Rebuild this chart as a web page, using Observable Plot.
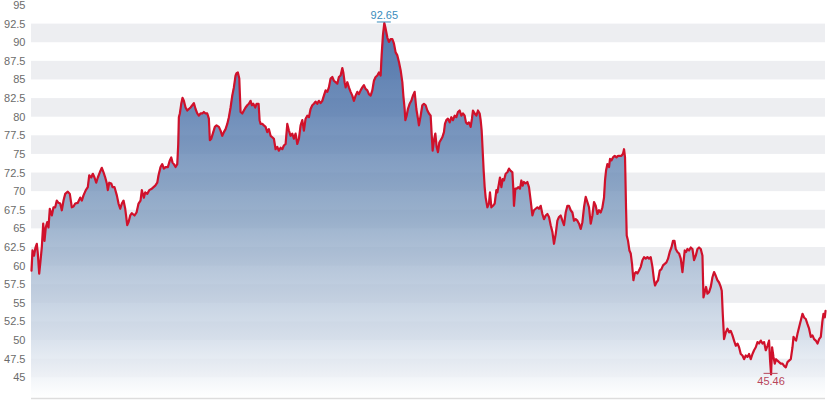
<!DOCTYPE html>
<html>
<head>
<meta charset="utf-8">
<script src="https://cdn.jsdelivr.net/npm/d3@7"></script>
<script src="https://cdn.jsdelivr.net/npm/@observablehq/plot@0.6"></script>
<style>
  html, body { margin: 0; padding: 0; background: #ffffff; }
  #chart svg { display: block; }
</style>
</head>
<body>
<div id="chart"></div>
<script>
// ---- data ----
const session = [
  // part 1
  31,32,33.5,35,36.3,37.3,38.7,40,41.3,42.7,44,45.3,46.7,48,49.3,51.3,53,54.7,56.3,58,
  59.7,61.3,63,64.7,67.3,69.3,71.3,73,74.7,77.3,79.7,81.3,83,85.3,87.3,88.7,90.7,92.3,94,95.7,
  97.3,99.3,101.3,103,104.7,106.3,107.3,108.7,110.7,112,114,116.3,118,119.7,121.3,123,124.7,126.7,128,129.7,
  131.3,134,136,138,140,141.3,143.3,144.7,146.7,148.7,151.3,153,154.7,156.7,158,
  // part 2
  160,161.7,163.3,165,167.3,169.3,170.7,172,173.3,175,
  176.7,177.7,178.3,179.3,180.7,182,183.3,185,186.7,188.3,
  190,191.7,193.3,195,196.7,198.3,200,201.7,203.3,205,
  206.7,208.3,209.3,210.7,212.7,214.3,216,218.3,220,221.7,
  223.3,225,226.7,228.3,230,231.7,233.3,235,236,237.3,
  238.7,239.3,240,241.7,243.3,245,246.7,248.3,250,251.3,
  252.7,254.7,256,258,259,260,261.7,263.3,265,266.7,
  268.3,270,271.7,273.3,275,276.7,278.3,280,281.7,283.3,
  285,286.7,288.3,290,291.7,293.3,
  // part 3
  295,296.7,298.3,300,301.7,303.3,305,306.7,308.3,310,
  311.7,313.3,315,316.7,318.3,320,321.7,323.3,325,326.7,
  328.3,330,331.7,333.3,335,336.7,338.3,340,341.7,342.7,
  344,345,346.7,348.3,350,351.7,353.3,355,356.7,358.3,
  360,361.7,363.3,365,366.7,368.3,370,371.7,373.3,375,
  376.7,378.3,380,381,382.3,383.7,385,386.7,388.3,390,
  391.7,393.3,395,396.7,398.3,400,401.7,402.7,404,404.7,
  406,407.3,409,410.7,412.3,414,415.7,417.3,418.3,420,
  421.7,423.3,425,426.7,428.3,430,
  // part 4
  431,432,433.3,434.7,436,437.3,438.7,440,441.7,443.3,
  444.3,445.7,447.3,449,450.7,452.3,454,455.7,457.3,459,
  460.7,462.3,464,465.3,466.7,468.3,470,471.3,472.3,474,
  475.7,477.3,479,480,481,482,483,484,485,486.7,
  488.3,489.3,490.7,492.3,494,495.7,496.7,498.3,499.3,500.7,
  502,503.3,505,506.7,508.3,510,511.7,512.7,513.3,514.7,
  516,517.7,519.3,520.7,522,523.3,525,526.7,528.3,530,
  531.7,533.3,535,536.7,538.3,540,541.7,543.3,545,546.7,
  548.3,550,551.7,553.3,555,556.7,558.3,
  // part 5
  560,561.7,563.3,565,566.7,568.3,570,571.7,573.3,575,
  576.7,578.3,580,581.7,583.3,585,586.7,588.3,590,591.7,
  593.3,595,596.7,598.3,600,601.7,603.3,604.3,605.3,606.7,
  608.3,609.3,610.7,612.3,614,615.7,617.3,619,620.7,622.3,
  623.3,624.3,625.3,626,627.3,628.7,630,631.3,632.7,634,
  635.3,636.7,638.3,640,641.7,643.3,645,646.7,648.3,650,
  651.7,653.3,654.3,655.7,657.3,659,660.7,662.3,664,665.7,
  667.3,669,670.7,672.3,673.7,675,676.7,678.3,680,681.7,
  682.7,684,685.3,686.7,688.3,
  // part 6
  690,691.7,693.3,695,696.7,698.3,700,701.7,702.7,704,
  705.3,706.7,708.3,710,711.7,713.3,715,716.7,718.3,720,
  721,722,723.3,725,726.7,728.3,730,731.7,733.3,735,
  736.7,738.3,740,741.7,743.3,745,746.7,748.3,750,751.7,
  753.3,755,756.7,758.3,760,761.7,763.3,765,766.7,768.3,
  769.3,770.3,771.3,772.7,774,775.3,776.7,778.3,780,781.7,
  783.3,785,786.7,788.3,790,791.7,792.7,794,795.3,796.7,
  798.3,800,801.7,803.3,805,806.7,808.3,810,811.7,813.3,
  815,816.7,818.3,820,821.7,822.7,824,824.7
];

const price = [
  // part 1
  59.4,62.1,61.4,62.5,63.0,61.7,59.0,60.7,62.5,65.7,63.4,65.2,65.9,65.2,67.7,66.8,67.9,67.9,68.8,68.5,
  68.4,67.5,68.8,69.7,70.0,69.7,67.9,68.0,68.4,68.5,69.2,68.8,69.5,70.2,70.6,72.2,71.9,72.4,71.9,71.2,
  71.9,72.6,73.2,72.6,71.9,71.1,70.2,71.2,71.1,70.6,70.6,69.5,68.4,67.7,68.4,68.8,67.7,65.5,65.9,66.8,
  67.1,66.8,67.2,68.4,68.8,70.2,69.2,69.9,69.7,70.2,70.4,70.6,70.8,71.2,72.2,
  // part 2
  73.3,73.7,73.1,73.3,73.3,74.2,74.6,73.9,73.7,73.3,
  73.7,76.4,80.0,80.5,81.8,82.6,82.2,81.3,80.9,81.1,
  81.3,81.6,81.9,81.1,80.5,80.2,80.5,80.5,80.7,80.5,
  80.5,79.8,76.9,77.1,78.0,78.7,78.9,78.7,78.2,77.5,
  78.0,78.4,79.1,80.0,81.3,82.9,84.0,85.6,85.9,86.0,
  85.2,83.1,80.7,80.5,80.9,81.3,81.6,81.8,82.2,81.6,
  81.8,81.3,81.8,81.8,79.6,79.1,79.1,78.9,78.7,78.0,
  78.4,77.5,77.3,77.1,75.7,76.0,75.5,75.9,75.7,76.2,
  76.4,79.1,78.2,77.5,77.8,77.1,
  // part 3
  77.8,76.4,77.1,78.9,79.6,78.2,79.8,80.2,80.0,81.1,
  81.6,81.8,82.1,81.8,82.2,81.9,82.2,82.9,83.6,83.4,
  84.0,85.2,85.4,84.9,84.7,84.5,85.4,85.6,86.6,86.0,
  84.7,84.0,84.7,84.0,83.4,82.9,82.2,82.9,83.4,83.1,
  83.6,84.0,84.3,83.8,83.6,83.1,82.9,83.6,84.9,85.4,
  85.6,86.0,85.6,88.3,91.0,92.65,91.9,90.7,90.1,90.5,
  90.5,89.9,88.7,88.3,87.4,86.3,84.7,82.9,81.1,79.6,
  80.2,81.1,81.8,82.2,82.9,83.4,81.1,79.8,78.9,80.2,
  81.6,81.8,81.6,80.9,80.5,80.2,
  // part 4
  77.8,75.5,76.9,77.8,76.0,75.3,76.6,76.9,77.3,78.0,
  79.1,79.6,79.8,79.3,80.0,79.6,80.2,80.0,80.7,80.9,
  80.2,80.5,80.2,79.3,79.1,79.3,78.7,79.8,80.9,80.5,
  80.2,80.9,80.5,79.6,78.2,75.5,72.8,70.6,69.2,67.9,
  68.4,69.9,67.9,68.1,68.4,70.2,69.9,71.1,71.9,70.6,
  71.7,71.5,72.4,72.6,73.1,72.8,72.6,70.2,68.1,70.4,
  70.4,70.6,70.4,71.5,70.8,71.3,71.1,71.3,70.6,68.8,
  66.8,67.5,67.7,67.9,67.7,68.1,67.0,66.3,66.8,67.0,
  66.6,65.5,64.6,63.0,64.3,66.1,66.6,
  // part 5
  66.8,66.1,65.5,67.2,68.1,68.1,67.5,67.2,66.1,66.3,
  66.1,65.7,65.0,65.9,67.9,69.3,68.6,67.9,65.7,66.8,
  68.6,68.1,67.0,67.5,67.2,67.9,69.2,71.5,72.8,73.7,
  73.3,74.4,74.2,74.6,74.8,74.6,74.8,74.8,74.8,75.1,
  75.7,74.6,67.9,64.1,63.4,62.1,61.7,60.3,58.1,59.0,
  59.2,59.0,59.4,59.9,60.8,61.2,61.0,61.2,61.0,61.2,
  59.9,58.1,57.4,57.8,58.1,59.4,59.6,60.1,60.3,60.5,
  61.0,61.9,62.5,63.4,63.4,62.3,61.9,61.7,61.0,59.2,
  60.5,62.1,61.9,62.3,62.1,
  // part 6
  62.5,62.3,60.8,61.4,62.3,62.5,62.3,61.4,55.8,56.5,
  57.2,56.3,56.5,57.2,58.5,59.2,58.7,58.1,57.8,57.2,
  56.7,53.6,50.2,51.1,51.6,51.1,51.3,50.7,50.0,49.3,
  49.6,49.1,48.2,48.0,47.5,48.0,47.8,48.2,47.5,48.2,
  48.7,49.1,49.8,49.6,50.0,49.6,49.8,48.7,49.3,50.0,
  47.3,45.46,49.1,47.8,46.9,47.5,47.3,47.1,46.9,46.9,
  46.6,46.4,47.1,47.3,47.5,49.1,50.5,50.2,50.0,50.9,
  51.8,52.7,53.6,53.1,52.9,52.2,51.6,50.5,50.7,50.2,
  50.0,49.6,50.2,50.5,52.7,53.6,53.1,54.0
];

const yTicks = [45, 47.5, 50, 52.5, 55, 57.5, 60, 62.5, 65, 67.5, 70, 72.5, 75, 77.5, 80, 82.5, 85, 87.5, 90, 92.5, 95];
const bandStarts = [45, 50, 55, 60, 65, 70, 75, 80, 85, 90];
const bandSize = 2.5;
const yFloor = 42.22;

// ---- build ----
const data = session.map((s, i) => ({s, v: price[i]}));
const xDomain = [d3.min(session), d3.max(session)];
const maxPt = d3.greatest(data, d => d.v);
const minPt = d3.least(data, d => d.v);

const chart = Plot.plot({
  width: 830,
  height: 407,
  marginLeft: 31,
  marginRight: 5,
  marginTop: 5,
  marginBottom: 9,
  style: {fontFamily: "'Liberation Sans', Arial, sans-serif", fontSize: "11px", color: "#6b6b6b", background: "#ffffff", overflow: "visible"},
  x: {domain: xDomain, axis: null},
  y: {domain: [yFloor, 95], ticks: yTicks, tickSize: 0, tickPadding: 6, label: null, tickFormat: d => String(d)},
  marks: [
    Plot.rect(bandStarts, {x1: xDomain[0], x2: xDomain[1], y1: d => d, y2: d => d + bandSize, fill: "#edeef1"}),
    Plot.areaY(data, {x: "s", y1: yFloor, y2: "v", fill: "url(#areaGrad)", fillOpacity: 0.8}),
    Plot.line(data, {x: "s", y: "v", stroke: "#d0112b", strokeWidth: 2.2, strokeLinejoin: "round"}),
    Plot.ruleY([yFloor], {stroke: "#dddddd", strokeWidth: 1.5}),
    Plot.ruleY([maxPt], {y: "v", x1: d => d.s - 7, x2: d => d.s + 7, stroke: "#3a8cbc", strokeWidth: 1, dy: -1}),
    Plot.text([maxPt], {x: "s", y: "v", text: d => d.v.toFixed(2), dy: -8, fill: "#3a8cbc", fontSize: 11}),
    Plot.ruleY([minPt], {y: "v", x1: d => d.s - 7, x2: d => d.s + 7, stroke: "#b8465a", strokeWidth: 1, dy: -1}),
    Plot.text([minPt], {x: "s", y: "v", text: d => d.v.toFixed(2), dy: 7, fill: "#b8465a", fontSize: 11})
  ]
});

// vertical gradient for the area fill
const yScale = chart.scale("y");
const yTop = yScale.apply(maxPt.v);
const yBot = yScale.apply(yFloor);
const defs = d3.select(chart).insert("defs", ":first-child");
const grad = defs.append("linearGradient")
  .attr("id", "areaGrad")
  .attr("gradientUnits", "userSpaceOnUse")
  .attr("x1", 0).attr("x2", 0)
  .attr("y1", yTop).attr("y2", yBot);
[[0, "#295698"], [0.25, "#4e74aa"], [0.5, "#7e9bbe"], [0.65, "#a4b8d1"], [0.85, "#d2dce9"], [1, "#ffffff"]]
  .forEach(([o, c]) => grad.append("stop").attr("offset", o).attr("stop-color", c));

document.getElementById("chart").appendChild(chart);
</script>
</body>
</html>
